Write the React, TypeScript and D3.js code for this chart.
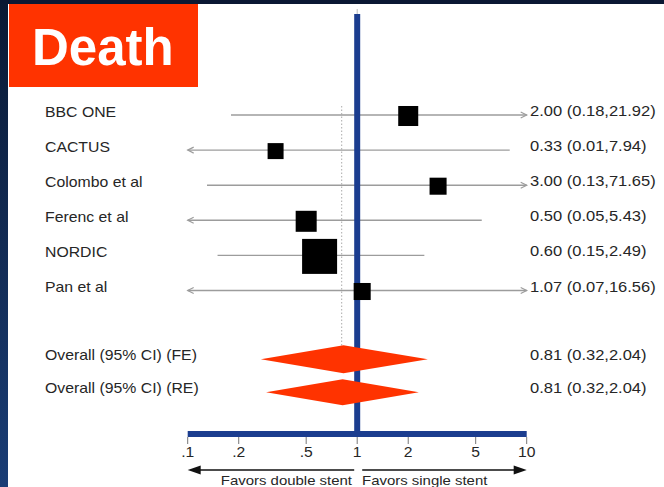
import React from "react";
import * as d3 from "d3";

// ---- data ----
const studies = ["BBC ONE", "CACTUS", "Colombo et al", "Ferenc et al", "NORDIC", "Pan et al"];
const estimates = [2.0, 0.33, 3.0, 0.5, 0.6, 1.07];
const lowerCI = [0.18, 0.01, 0.13, 0.05, 0.15, 0.07];
const upperCI = [21.92, 7.94, 71.65, 5.43, 2.49, 16.56];
const weights = [13.8, 8.8, 10.0, 15.2, 42.2, 10.0];

const summaryLabels = ["Overall (95% CI) (FE)", "Overall (95% CI) (RE)"];
const summaryEst = [0.81, 0.81];
const summaryLo = [0.32, 0.32];
const summaryHi = [2.04, 2.04];
// diamond extents as drawn in the picture
const diamondLo = [0.27, 0.29];
const diamondMid = [0.83, 0.82];
const diamondHi = [2.61, 2.31];

const tickValues = [0.1, 0.2, 0.5, 1, 2, 5, 10];
const tickLabels = [".1", ".2", ".5", "1", "2", "5", "10"];
const title = "Death";
const leftNote = "Favors double stent";
const rightNote = "Favors single stent";

// ---- layout ----
const W = 664;
const H = 487;
const FONT = "'Liberation Sans', Arial, Helvetica, sans-serif";
const BLUE = "#1b3d8f";
const RED = "#ff3300";
const GRAY = "#9c9c9c";
const INK = "#262626";

const fmt = (v: number) => v.toFixed(2);

function SText(props: {
  x: number; y: number; sx: number; size: number; anchor?: string;
  fill?: string; weight?: string | number; children: React.ReactNode;
}) {
  const { x, y, sx, size, anchor = "start", fill = INK, weight = "normal", children } = props;
  return (
    <text
      transform={`translate(${x},${y}) scale(${sx},1)`}
      textAnchor={anchor as any}
      fontSize={size}
      fontFamily={FONT}
      fill={fill}
      fontWeight={weight as any}
    >
      {children}
    </text>
  );
}

export default function App() {
  const x = d3.scaleLog().domain([0.1, 10]).range([187.7, 526.7]);
  const yStudy = d3.scaleLinear().domain([0, 1]).range([115, 150.1]);
  const ySummary = d3.scaleLinear().domain([0, 1]).range([359.3, 392.3]);
  const side = d3.scaleSqrt().domain([0, d3.max(weights) as number]).range([0, 35]);
  const [xMin, xMax] = x.range();
  const axisY = 434;
  const refX = x(1);
  const dotX = x(summaryEst[0]);
  const arrowY = 470;

  return (
    <div style={{ position: "absolute", left: 0, top: 0 }}>
      <svg width={W} height={H} style={{ display: "block" }}>
        <defs>
          <linearGradient id="edge" x1="0" y1="0" x2="0" y2="1">
            <stop offset="0" stopColor="#0a1933" />
            <stop offset="1" stopColor="#1a3d75" />
          </linearGradient>
        </defs>
        <rect x={0} y={0} width={W} height={H} fill="url(#edge)" />
        <rect x={0} y={0} width={W} height={4} fill="#0a1833" />
        <rect x={8} y={4} width={W - 8} height={H - 4} fill="#ffffff" />

        {/* title box */}
        <rect x={9} y={4} width={189} height={83} fill={RED} />
        <SText x={32} y={65} sx={1.0} size={51} fill="#ffffff" weight="bold">{title}</SText>

        {/* dotted summary line */}
        <line x1={dotX} x2={dotX} y1={106} y2={346} stroke="#aaaaaa" strokeWidth={1} strokeDasharray="1.5,2" />

        {/* study CI lines */}
        {studies.map((s, i) => {
          const y = yStudy(i);
          const lo = Math.max(lowerCI[i], 0.1);
          const hi = Math.min(upperCI[i], 10);
          const x1 = x(lo);
          const x2 = x(hi);
          return (
            <g key={s}>
              <line x1={x1} x2={x2} y1={y} y2={y} stroke={GRAY} strokeWidth={1.4} />
              {lowerCI[i] < 0.1 && (
                <polyline points={`${x1 + 6},${y - 3} ${x1},${y} ${x1 + 6},${y + 3}`} fill="none" stroke={GRAY} strokeWidth={1.2} />
              )}
              {upperCI[i] > 10 && (
                <polyline points={`${x2 - 6},${y - 3} ${x2},${y} ${x2 - 6},${y + 3}`} fill="none" stroke={GRAY} strokeWidth={1.2} />
              )}
            </g>
          );
        })}

        {/* blue reference line */}
        <line x1={refX} x2={refX} y1={9} y2={14} stroke="#bbbbbb" strokeWidth={1} />
        <line x1={refX} x2={refX} y1={14} y2={axisY} stroke={BLUE} strokeWidth={6} />

        {/* squares */}
        {studies.map((s, i) => {
          const y = yStudy(i);
          const cx = x(estimates[i]);
          const a = side(weights[i]);
          return <rect key={s + "sq"} x={cx - a / 2} y={y + 1 - a / 2} width={a} height={a} fill="#000" />;
        })}

        {/* study labels */}
        {studies.map((s, i) => (
          <SText key={s + "l"} x={45} y={yStudy(i) + 1.5} sx={1.13} size={14}>{s}</SText>
        ))}
        {studies.map((s, i) => (
          <SText key={s + "r"} x={530} y={yStudy(i) + 1} sx={1.18} size={14}>
            {`${fmt(estimates[i])} (${fmt(lowerCI[i])},${fmt(upperCI[i])})`}
          </SText>
        ))}

        {/* summary diamonds */}
        {summaryLabels.map((s, i) => {
          const y = ySummary(i);
          const h = i === 0 ? 14 : 13;
          const pts = [
            [x(diamondLo[i]), y],
            [x(diamondMid[i]), y - h],
            [x(diamondHi[i]), y],
            [x(diamondMid[i]), y + h],
          ].map((p) => p.join(",")).join(" ");
          return <polygon key={s} points={pts} fill={RED} />;
        })}
        {summaryLabels.map((s, i) => (
          <SText key={s + "l"} x={45} y={ySummary(i) + 0.5} sx={1.13} size={14}>{s}</SText>
        ))}
        {summaryLabels.map((s, i) => (
          <SText key={s + "r"} x={530} y={ySummary(i) + 0.5} sx={1.18} size={14}>
            {`${fmt(summaryEst[i])} (${fmt(summaryLo[i])},${fmt(summaryHi[i])})`}
          </SText>
        ))}

        {/* axis */}
        <line x1={xMin} x2={xMax} y1={axisY} y2={axisY} stroke={BLUE} strokeWidth={6} />
        {tickValues.map((t, i) => (
          <g key={"t" + i}>
            <line x1={x(t)} x2={x(t)} y1={axisY + 3} y2={axisY + 10} stroke="#777" strokeWidth={1} />
            <SText x={x(t)} y={457} sx={1.12} size={14} anchor="middle">{tickLabels[i]}</SText>
          </g>
        ))}

        {/* direction arrows */}
        <line x1={refX - 3} x2={xMin + 8} y1={arrowY} y2={arrowY} stroke="#111" strokeWidth={1.4} />
        <polygon points={`${xMin},${arrowY} ${xMin + 13},${arrowY - 4.5} ${xMin + 13},${arrowY + 4.5}`} fill="#111" />
        <line x1={refX + 5} x2={xMax - 8} y1={arrowY} y2={arrowY} stroke="#111" strokeWidth={1.4} />
        <polygon points={`${xMax},${arrowY} ${xMax - 13},${arrowY - 4.5} ${xMax - 13},${arrowY + 4.5}`} fill="#111" />
        <SText x={352} y={485} sx={1.15} size={13} anchor="end">{leftNote}</SText>
        <SText x={362} y={485} sx={1.15} size={13}>{rightNote}</SText>
      </svg>
    </div>
  );
}
